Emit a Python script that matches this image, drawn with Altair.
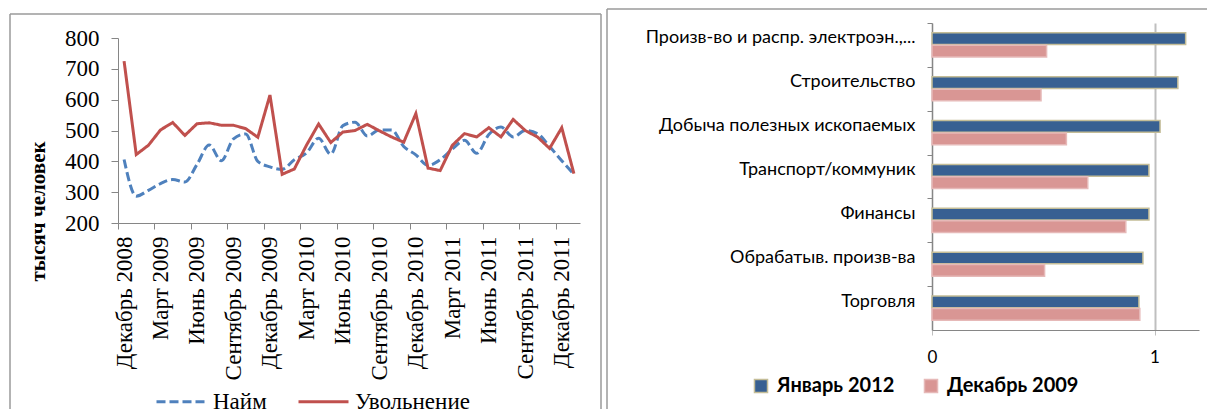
import json
import altair as alt
import pandas as pd

# ---------------- data ----------------
months = [
    "Декабрь 2008", "Январь 2009", "Февраль 2009", "Март 2009", "Апрель 2009", "Май 2009",
    "Июнь 2009", "Июль 2009", "Август 2009", "Сентябрь 2009", "Октябрь 2009", "Ноябрь 2009",
    "Декабрь 2009", "Январь 2010", "Февраль 2010", "Март 2010", "Апрель 2010", "Май 2010",
    "Июнь 2010", "Июль 2010", "Август 2010", "Сентябрь 2010", "Октябрь 2010", "Ноябрь 2010",
    "Декабрь 2010", "Январь 2011", "Февраль 2011", "Март 2011", "Апрель 2011", "Май 2011",
    "Июнь 2011", "Июль 2011", "Август 2011", "Сентябрь 2011", "Октябрь 2011", "Ноябрь 2011",
    "Декабрь 2011", "Январь 2012",
]
hires = [406, 287, 306, 328, 341, 333, 390, 453, 402, 473,
         489, 400, 382, 374, 405, 427, 475, 423, 516, 527,
         482, 502, 502, 448, 421, 387, 405, 440, 468, 426,
         487, 511, 479, 500, 490, 448, 402, 358]
fires = [725, 422, 452, 502, 526, 484, 522, 525, 517, 517,
         506, 478, 615, 358, 375, 452, 521, 461, 495, 500,
         520, 499, 479, 462, 555, 378, 370, 452, 490, 479,
         509, 479, 536, 500, 479, 442, 509, 360]
line_series = ["Найм", "Увольнение"]
y_ticks = [200, 300, 400, 500, 600, 700, 800]

sectors = [
    "Произв-во и распр. электроэн.,...",
    "Строительство",
    "Добыча полезных ископаемых",
    "Транспорт/коммуник",
    "Финансы",
    "Обрабатыв. произв-ва",
    "Торговля",
]
jan2012 = [1.14, 1.105, 1.025, 0.975, 0.975, 0.948, 0.93]
dec2009 = [0.515, 0.49, 0.604, 0.70, 0.871, 0.506, 0.934]
periods = ["Январь 2012", "Декабрь 2009"]
x_ticks_right = [0, 1]

# ---------------- tables ----------------
rows = []
for i, m in enumerate(months):
    rows.append({"idx": i, "month": m, "series": line_series[0], "value": hires[i]})
    rows.append({"idx": i, "month": m, "series": line_series[1], "value": fires[i]})
df_left = pd.DataFrame(rows)

rrows = []
for s, a, b in zip(sectors, jan2012, dec2009):
    rrows.append({"sector": s, "period": periods[0], "value": a})
    rrows.append({"sector": s, "period": periods[1], "value": b})
df_right = pd.DataFrame(rrows)

one = pd.DataFrame({"k": [0]})

SERIF = "Liberation Serif"
SANS = "Lato"
FRAME = "#9a9a9a"
AXIS = "#868686"

# ---------------- left panel ----------------
# plot area top is shared with the right panel (page y = 22); the value axis starts 15px lower
TOP = 15
LW, LH = 462, 200
shown = months[::3]
tick_vals = [i - 0.5 for i in range(0, len(months), 3)]
label_expr = json.dumps(shown, ensure_ascii=False) + "[round((datum.value + 0.5) / 3)]"

leg_left = alt.Legend(
    orient="none", legendX=37, legendY=337 + TOP, direction="horizontal", title=None,
    labelFont=SERIF, labelFontSize=23, labelColor="black", symbolType="stroke",
    symbolSize=2500, symbolStrokeWidth=3, labelOffset=5, columnPadding=25, padding=0,
)
color_left = alt.Color("series:N", scale=alt.Scale(domain=line_series, range=["#4F81BD", "#C0504D"]),
                       legend=leg_left)
dash_left = alt.StrokeDash("series:N", scale=alt.Scale(domain=line_series, range=[[9, 4], [1, 0]]),
                           legend=leg_left)

x_left = alt.X(
    "idx:Q",
    scale=alt.Scale(domain=[-0.5, len(months) - 0.5], nice=False, zero=False),
    axis=alt.Axis(
        values=tick_vals, labelExpr=label_expr, labelAngle=270, labelAlign="right",
        labelBaseline="middle", labelOffset=6, tickSize=6, labelPadding=7, grid=False,
        title=None, labelFont=SERIF, labelFontSize=23, labelColor="black",
        domainColor=AXIS, tickColor=AXIS, labelOverlap=False, labelFlush=False,
    ),
)
y_left = alt.Y(
    "value:Q",
    scale=alt.Scale(domain=[200, 800], range=[LH, TOP], nice=False, zero=False),
    axis=alt.Axis(
        values=y_ticks, tickSize=7, labelPadding=12, grid=False, labelFont=SERIF,
        labelFontSize=23, labelColor="black", domainColor=AXIS, tickColor=AXIS,
        labelFlush=False, labelOverlap=False,
        title="тысяч человек", titleFont=SERIF, titleFontWeight="bold", titleFontSize=21,
        titleColor="black", titleX=-80, titleY=173 + TOP, titleAngle=270, titleAlign="center",
        titleBaseline="middle",
    ),
)

hire_line = alt.Chart(df_left).transform_filter(
    alt.datum.series == line_series[0]
).mark_line(strokeWidth=3, interpolate="monotone").encode(
    x=x_left, y=y_left, color=color_left, strokeDash=dash_left, order="idx:Q"
)
fire_line = alt.Chart(df_left).transform_filter(
    alt.datum.series == line_series[1]
).mark_line(strokeWidth=3).encode(
    x=x_left, y=y_left, color=color_left, strokeDash=dash_left, order="idx:Q"
)


def vrule(x, y, y2, color=FRAME, w=1.5):
    return alt.Chart(one).mark_rule(color=color, strokeWidth=w).encode(
        x=alt.value(x), y=alt.value(y), y2=alt.value(y2))


def hrule(x, x2, y, color=FRAME, w=1.5):
    return alt.Chart(one).mark_rule(color=color, strokeWidth=w).encode(
        x=alt.value(x), x2=alt.value(x2), y=alt.value(y))


left = alt.layer(
    vrule(-108, -9, 386),
    hrule(-108, 483, -9),
    vrule(483, -9, 386),
    hire_line,
    fire_line,
).properties(width=LW, height=LH)

# ---------------- right panel ----------------
RW, RH = 267, 307
p_in, p_out = 0.45, 0.225
step = RH / (len(sectors) - p_in + 2 * p_out)

leg_right = alt.Legend(
    orient="none", legendX=-181, legendY=353, direction="horizontal", title=None,
    labelFont=SANS, labelFontWeight="bold", labelFontSize=20, labelColor="black",
    symbolType="square", symbolSize=170, symbolStrokeWidth=1.5, labelOffset=6,
    columnPadding=26, padding=0,
)

bars = alt.Chart(df_right).mark_bar(strokeWidth=1.5).encode(
    y=alt.Y(
        "sector:N", sort=sectors,
        scale=alt.Scale(paddingInner=p_in, paddingOuter=p_out),
        axis=alt.Axis(
            title=None, labelFont=SANS, labelFontSize=18, labelColor="black", tickSize=5,
            tickOffset=-step / 2, labelOffset=step / 2 - 7, labelPadding=12,
            domainColor=AXIS, tickColor=AXIS, labelLimit=400, grid=False,
        ),
    ),
    yOffset=alt.YOffset("period:N", sort=periods, scale=alt.Scale(paddingInner=0.06)),
    x=alt.X(
        "value:Q", scale=alt.Scale(domain=[0, 1.2], nice=False),
        axis=alt.Axis(
            values=x_ticks_right, format="d", grid=True, gridColor="#BFBFBF", gridWidth=2,
            tickSize=5, labelPadding=14, labelFont=SANS, labelFontSize=17, labelColor="black",
            title=None, domainColor=AXIS, tickColor="#BFBFBF", labelFlush=False,
        ),
    ),
    color=alt.Color("period:N", scale=alt.Scale(domain=periods, range=["#386092", "#D99694"]),
                    legend=leg_right),
    stroke=alt.Stroke("period:N", scale=alt.Scale(domain=periods, range=["#C4BD97", "#E6B9B8"]),
                      legend=leg_right),
)

right = alt.layer(
    vrule(-325, -14, 386),
    hrule(-325, 275, -14),
    bars,
).properties(width=RW, height=RH)

chart = alt.hconcat(left, right, spacing=4).resolve_scale(
    color="independent", strokeDash="independent", stroke="independent"
).resolve_legend(
    color="independent", strokeDash="independent", stroke="independent"
).properties(
    padding={"left": 1, "top": 0, "right": 0, "bottom": 0}
).configure_view(strokeOpacity=0)

chart.save("out.html", embed_options={"renderer": "svg", "actions": False})
